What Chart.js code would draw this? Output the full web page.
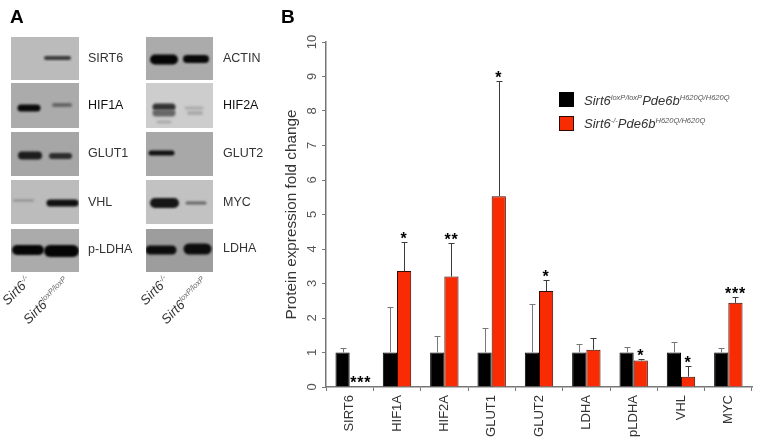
<!DOCTYPE html>
<html>
<head>
<meta charset="utf-8">
<script src="https://cdn.jsdelivr.net/npm/chart.js@4"></script>
<style>
  body { margin: 0; background: #fff; font-family: "Liberation Sans", Arial, sans-serif; color: #333; }
  #page { position: relative; width: 764px; height: 443px; overflow: hidden; }
  canvas { position: absolute; left: 0; top: 0; }
  .txt { position: absolute; white-space: nowrap; line-height: 1; }
  .panel { font-weight: bold; font-size: 19px; color: #000; }
  .blot { font-size: 12.5px; }
  .rot { font-size: 13.2px; font-style: italic; transform: rotate(-45deg); transform-origin: left bottom; }
  .rot sup { color: #666; }
  .leg { font-size: 13px; font-style: italic; color: #333; }
  .leg sup { color: #555; }
  sup { font-size: 0.58em; line-height: 0; vertical-align: baseline; position: relative; top: -0.6em; }
  .swatch { position: absolute; width: 15px; height: 15px; box-sizing: border-box; }
</style>
</head>
<body>
<div id="page">
  <canvas id="blots" width="764" height="443"></canvas>
  <canvas id="marksChart" width="764" height="443"></canvas>

  <div class="txt panel" style="left:10px;top:7px">A</div>
  <div class="txt panel" style="left:281px;top:7px">B</div>

  <div class="txt blot" style="left:88px;top:52px">SIRT6</div>
  <div class="txt blot" style="left:88px;top:99px;color:#111">HIF1A</div>
  <div class="txt blot" style="left:88px;top:147px">GLUT1</div>
  <div class="txt blot" style="left:88px;top:196px">VHL</div>
  <div class="txt blot" style="left:88px;top:243px">p-LDHA</div>
  <div class="txt blot" style="left:223px;top:52px">ACTIN</div>
  <div class="txt blot" style="left:223px;top:99px;color:#111">HIF2A</div>
  <div class="txt blot" style="left:223px;top:147px">GLUT2</div>
  <div class="txt blot" style="left:223px;top:196px">MYC</div>
  <div class="txt blot" style="left:223px;top:242px">LDHA</div>

  <div class="txt rot" style="left:9px;top:294px">Sirt6<sup>-/-</sup></div>
  <div class="txt rot" style="left:30px;top:313px">Sirt6<sup>loxP/loxP</sup></div>
  <div class="txt rot" style="left:147px;top:294px">Sirt6<sup>-/-</sup></div>
  <div class="txt rot" style="left:168px;top:313px">Sirt6<sup>loxP/loxP</sup></div>

  <div class="swatch" style="left:559px;top:92px;background:#000"></div>
  <div class="swatch" style="left:559px;top:115.5px;background:#f92b03;border:1.5px solid #2a0800"></div>
  <div class="txt leg" style="left:584px;top:94px">Sirt6<sup>loxP/loxP</sup>Pde6b<sup>H620Q/H620Q</sup></div>
  <div class="txt leg" style="left:584px;top:117px">Sirt6<sup>-/-</sup>Pde6b<sup>H620Q/H620Q</sup></div>
</div>

<script>
  const categories = ['SIRT6', 'HIF1A', 'HIF2A', 'GLUT1', 'GLUT2', 'LDHA', 'pLDHA', 'VHL', 'MYC'];
  const controlValues = [1, 1, 1, 1, 1, 1, 1, 1, 1];
  const knockoutValues = [0.02, 3.36, 3.2, 5.53, 2.78, 1.08, 0.77, 0.3, 2.44];
  const controlTops = [1.14, 2.33, 1.48, 1.72, 2.41, 1.24, 1.17, 1.3, 1.14];
  const knockoutTops = [null, 4.2, 4.18, 8.87, 3.11, 1.43, 0.8, 0.62, 2.62];
  const stars = ['***', '*', '**', '*', '*', '', '*', '*', '***'];
  const yTicks = [0, 1, 2, 3, 4, 5, 6, 7, 8, 9, 10];

  // western blot panels: x, y, w, h, background, then bands as x1, x2, y, thickness, colour
  const blots = [
    [11, 37, 68, 43, '#bbbbbb', [[46, 69, 58, 4, '#3a3a3a']]],
    [11, 83, 68, 45, '#ababab', [[21, 37, 108, 7, '#0a0a0a'], [54, 70, 105, 4, '#666']]],
    [11, 132, 68, 44, '#a6a6a6', [[22, 38, 155.5, 8, '#1c1c1c'], [52, 69, 156, 6, '#2c2c2c']]],
    [11, 180, 68, 44, '#bcbcbc', [[14, 33, 200.5, 2, '#8a8a8a'], [50, 75, 203, 7, '#111']]],
    [11, 229, 68, 43, '#ababab', [[17, 39, 250, 10, '#050505'], [50, 73, 251, 12, '#050505']]],
    [146, 37, 67, 43, '#ababab', [[155, 173, 59.5, 10, '#050505'], [187, 205, 59, 8, '#080808']]],
    [146, 83, 67, 45, '#cdcdcd', [[156, 172, 107, 7, '#333'], [156, 172, 113, 7, '#666'], [158, 170, 122, 3, '#aaa'], [186, 202, 108, 3, '#aaa'], [189, 201, 113, 4, '#aaa']]],
    [146, 132, 67, 44, '#a8a8a8', [[151, 172, 153, 5, '#111']]],
    [146, 180, 67, 44, '#c2c2c2', [[155, 174, 203, 10, '#151515'], [187, 205, 203, 3, '#666']]],
    [146, 229, 67, 43, '#9d9d9d', [[150, 172, 250, 9, '#0c0c0c'], [189, 206, 249, 11, '#0c0c0c']]]
  ];

  function drawBlots() {
    const b = document.getElementById('blots').getContext('2d');
    blots.forEach(([x, y, w, h, bg, bands]) => {
      b.fillStyle = bg;
      b.fillRect(x, y, w, h);
      b.save();
      b.beginPath();
      b.rect(x, y, w, h);
      b.clip();
      b.filter = 'blur(1px)';
      b.lineCap = 'round';
      bands.forEach(([x1, x2, by, t, colour]) => {
        b.strokeStyle = colour;
        b.lineWidth = t;
        b.beginPath();
        b.moveTo(x1, by);
        b.lineTo(x2, by);
        b.stroke();
      });
      b.restore();
    });
  }

  // upper error whiskers and significance stars
  const whiskers = {
    id: 'whiskers',
    afterDatasetsDraw(chart) {
      const c = chart.ctx;
      const y = chart.scales.y;
      const tops = [controlTops, knockoutTops];
      const colours = ['#777', '#3c3c3c'];
      tops.forEach((list, d) => {
        const bars = chart.getDatasetMeta(d).data;
        list.forEach((top, i) => {
          if (top === null) return;
          const px = Math.round(bars[i].x) + 0.5;
          const py = Math.round(y.getPixelForValue(top)) + 0.5;
          c.strokeStyle = colours[d];
          c.lineWidth = 1;
          c.beginPath();
          c.moveTo(px, bars[i].y);
          c.lineTo(px, py);
          c.moveTo(px - 3, py);
          c.lineTo(px + 3, py);
          c.stroke();
        });
      });
      const red = chart.getDatasetMeta(1).data;
      c.fillStyle = '#000';
      c.font = 'bold 16px "Liberation Sans"';
      c.letterSpacing = '0.8px';
      c.textAlign = 'center';
      c.textBaseline = 'alphabetic';
      stars.forEach((s, i) => {
        const top = knockoutTops[i] === null ? knockoutValues[i] : knockoutTops[i];
        const x = red[i].x + (knockoutTops[i] === null ? 4 : 0);
        c.fillText(s, x, y.getPixelForValue(top) + 2);
      });
      c.letterSpacing = '0px';
    }
  };

  drawBlots();

  const ctx = document.getElementById('marksChart').getContext('2d');
  const chart = new Chart(ctx, {
    type: 'bar',
    data: {
      labels: categories,
      datasets: [
        {
          label: 'Sirt6 loxP/loxP',
          data: controlValues,
          backgroundColor: '#000',
          borderColor: '#000',
          borderWidth: 1,
          barPercentage: 1,
          categoryPercentage: 0.6
        },
        {
          label: 'Sirt6 -/-',
          data: knockoutValues,
          backgroundColor: '#f92b03',
          borderColor: '#3a0a00',
          borderWidth: 1,
          barPercentage: 1,
          categoryPercentage: 0.6
        }
      ]
    },
    options: {
      responsive: false,
      animation: false,
      layout: { padding: { left: 283, top: 42, right: 12, bottom: 0 } },
      scales: {
        x: {
          afterFit: s => { s.height = 56; },
          grid: { offset: true, drawOnChartArea: false, tickLength: 4, color: '#777' },
          border: { color: '#777', width: 1.5 },
          ticks: {
            autoSkip: false,
            minRotation: 90,
            maxRotation: 90,
            padding: 4,
            color: '#333',
            font: { family: 'Liberation Sans', size: 13 }
          }
        },
        y: {
          min: 0,
          max: 10,
          afterFit: s => { s.width = 43; },
          afterBuildTicks: s => { s.ticks = yTicks.map(value => ({ value })); },
          grid: { drawOnChartArea: false, tickLength: 4, color: '#777' },
          border: { color: '#777', width: 1.5 },
          title: {
            display: true,
            text: 'Protein expression fold change',
            color: '#333',
            padding: 0,
            font: { family: 'Liberation Sans', size: 15.3 }
          },
          ticks: {
            minRotation: 90,
            maxRotation: 90,
            crossAlign: 'center',
            padding: 2,
            color: '#555',
            font: { family: 'Liberation Sans', size: 13 }
          }
        }
      },
      plugins: {
        legend: { display: false },
        tooltip: { enabled: false }
      }
    },
    plugins: [whiskers]
  });
</script>
</body>
</html>
